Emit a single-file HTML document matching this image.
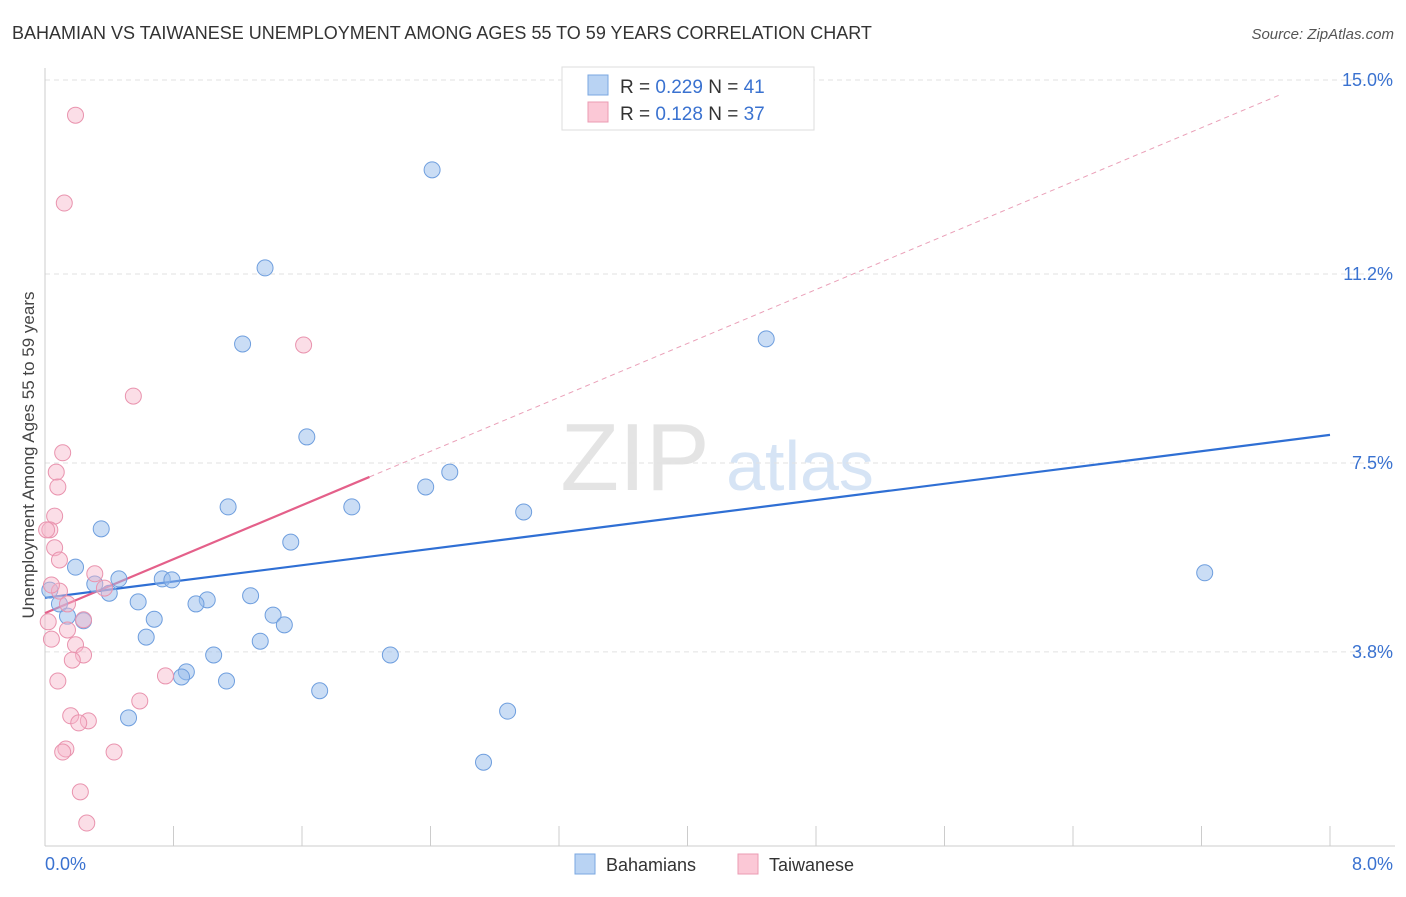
<!DOCTYPE html>
<html><head><meta charset="utf-8"><style>
body{margin:0;background:#fff;font-family:"Liberation Sans",sans-serif;}
svg text{font-family:"Liberation Sans",sans-serif;}
</style></head><body>
<svg id="c" width="1406" height="892" xmlns="http://www.w3.org/2000/svg">
<text x="12" y="39" font-size="18" fill="#333">BAHAMIAN VS TAIWANESE UNEMPLOYMENT AMONG AGES 55 TO 59 YEARS CORRELATION CHART</text>
<text x="1394" y="39" font-size="15" fill="#555" font-style="italic" text-anchor="end">Source: ZipAtlas.com</text>
<text x="635" y="490" font-size="96" fill="#e4e4e4" font-family="Liberation Serif" text-anchor="middle">ZIP</text>
<text x="800" y="490" font-size="70" fill="#d6e4f5" text-anchor="middle">atlas</text>
<g id="grid"></g><g id="axes"></g><g id="lines"></g><g id="pts"></g>
<text x="34" y="455" font-size="17" fill="#444" text-anchor="middle" transform="rotate(-90 34 455)">Unemployment Among Ages 55 to 59 years</text>
<g>
<rect x="562" y="67" width="252" height="63" fill="#fff" stroke="#ddd"/>
<rect x="588" y="75" width="20" height="20" fill="#b9d3f3" stroke="#7aa7e0"/>
<text x="620" y="93" font-size="19" fill="#333">R = <tspan fill="#3a72d0">0.229</tspan>    N =  <tspan fill="#3a72d0">41</tspan></text>
<rect x="588" y="102" width="20" height="20" fill="#fbc8d6" stroke="#eb9bb3"/>
<text x="620" y="120" font-size="19" fill="#333">R =  <tspan fill="#3a72d0">0.128</tspan>    N = <tspan fill="#3a72d0">37</tspan></text>
</g>
<g>
<rect x="575" y="854" width="20" height="20" fill="#b9d3f3" stroke="#7aa7e0"/>
<text x="606" y="871" font-size="18" fill="#333">Bahamians</text>
<rect x="738" y="854" width="20" height="20" fill="#fbc8d6" stroke="#eb9bb3"/>
<text x="769" y="871" font-size="18" fill="#333">Taiwanese</text>
</g>
</svg>
<script>
const yTicks=[3.8,7.5,11.2,15.0];
const yTickLabels=["3.8%","7.5%","11.2%","15.0%"];
const xTickLabels=["0.0%","8.0%"];
const blueX=[2.41,1.37,1.23,4.49,1.63,2.52,2.37,1.14,1.91,2.98,0.35,1.53,0.19,7.22,0.46,0.73,0.79,0.31,0.40,1.28,1.01,0.58,0.94,0.09,0.03,0.14,0.24,0.68,1.42,1.49,0.63,1.34,1.05,2.15,0.88,0.85,1.13,1.71,2.88,0.52,2.73];
const blueY=[13.24,11.32,9.83,9.93,8.01,7.32,7.03,6.64,6.64,6.54,6.21,5.95,5.46,5.35,5.23,5.23,5.21,5.13,4.95,4.90,4.82,4.78,4.74,4.74,5.01,4.50,4.41,4.44,4.52,4.33,4.09,4.01,3.74,3.74,3.41,3.31,3.23,3.04,2.64,2.51,1.64];
const pinkX=[0.19,0.12,1.61,0.55,0.11,0.07,0.08,0.06,0.03,0.06,0.09,0.31,0.37,0.09,0.14,0.24,0.02,0.14,0.04,0.19,0.24,0.17,0.75,0.08,0.59,0.16,0.27,0.21,0.13,0.11,0.43,0.22,0.26,0.01,0.04];
const pinkY=[14.31,12.59,9.81,8.81,7.70,7.32,7.03,6.46,6.19,5.84,5.60,5.33,5.05,4.99,4.74,4.43,4.39,4.23,4.05,3.94,3.74,3.64,3.33,3.23,2.84,2.55,2.45,2.41,1.90,1.84,1.84,1.06,0.45,6.19,5.11];
const blueTrend=[4.86,8.05];
const pinkTrend=[4.56,1.32];
const NS="http://www.w3.org/2000/svg";
const X0=45,X1=1330,Y0=846,YS=51.07;
function sx(v){return X0+v/8*(X1-X0);}
function sy(v){return Y0-v*YS;}
function mk(t,a,p){const e=document.createElementNS(NS,t);for(const k in a)e.setAttribute(k,a[k]);document.getElementById(p).appendChild(e);return e;}
yTicks.forEach((v,i)=>{
 const l=mk('line',{x1:45,x2:1395,y1:sy(v),y2:sy(v),stroke:'#e2e2e2','stroke-dasharray':'5,4'},'grid');
 
 
 const t=mk('text',{x:1393,y:sy(v)+6,'font-size':18,fill:'#3a72d0','text-anchor':'end'},'axes');
 t.textContent=yTickLabels[i];
 
 
});
const ax=mk('line',{x1:45,x2:45,y1:68,y2:846,stroke:'#ccc'},'axes');


const bx=mk('line',{x1:45,x2:1395,y1:846,y2:846,stroke:'#ccc'},'axes');


for(let i=0;i<=10;i++){
 const t=mk('line',{x1:sx(i*0.8),x2:sx(i*0.8),y1:826,y2:846,stroke:'#ccc'},'axes');
 
 
}
[[0,'start',45],[1,'end',1393]].forEach(([i,a,x])=>{
 const t=mk('text',{x:x,y:870,'font-size':18,fill:'#3a72d0','text-anchor':a},'axes');
 t.textContent=xTickLabels[i];
 
 
});
const bl=mk('line',{x1:sx(0),y1:sy(blueTrend[0]),x2:sx(8),y2:sy(blueTrend[1]),stroke:'#2f6fd4','stroke-width':2.2},'lines');


const pd=mk('line',{x1:sx(2.02),y1:sy(pinkTrend[0]+pinkTrend[1]*2.02),x2:sx(7.69),y2:sy(pinkTrend[0]+pinkTrend[1]*7.69),stroke:'#eaa0b8','stroke-width':1,'stroke-dasharray':'5,4'},'lines');


const pl=mk('line',{x1:sx(0),y1:sy(pinkTrend[0]),x2:sx(2.02),y2:sy(pinkTrend[0]+pinkTrend[1]*2.02),stroke:'#e4608a','stroke-width':2.2},'lines');


blueX.forEach((v,i)=>{
 const c=mk('circle',{cx:sx(v),cy:sy(blueY[i]),r:8,fill:'rgba(150,188,236,0.5)',stroke:'#6e9ede','stroke-width':1},'pts');
 
 
});
pinkX.forEach((v,i)=>{
 const c=mk('circle',{cx:sx(v),cy:sy(pinkY[i]),r:8,fill:'rgba(246,182,202,0.45)',stroke:'#e993ae','stroke-width':1},'pts');
 
 
});
</script>
</body></html>
